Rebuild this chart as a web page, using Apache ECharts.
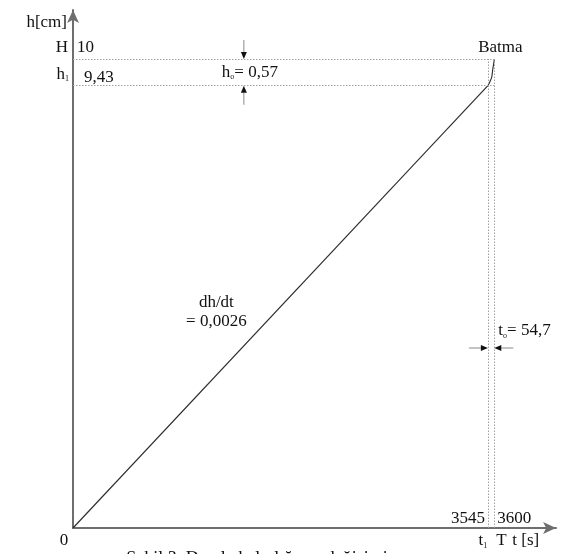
<!DOCTYPE html>
<html>
<head>
<meta charset="utf-8">
<script src="https://cdn.jsdelivr.net/npm/echarts@6/dist/echarts.min.js"></script>
<style>
  html, body { margin: 0; padding: 0; background: #fff; }
  #chart { width: 564px; height: 554px; }
</style>
</head>
<body>
<div id="chart"></div>
<script>
// Drop height h [cm] against time t [s]
const riseTime = [0, 3545];
const riseHeight = [0, 9.43];
// final sinking ("Batma") stage between t1 and T
const sinkTime = [3545, 3563, 3578, 3586, 3595, 3600];
const sinkHeight = [9.43, 9.52, 9.62, 9.77, 9.91, 10];
// reference levels: t1 / T and h1 / H
const refTimes = [3545, 3600];
const refHeights = [9.43, 10];
const timeTickLabels = ['3545', '3600'];
const heightTickLabels = ['9,43', '10'];
const gapHeightLabel = '0,57';
const gapTimeLabel = '54,7';
const slopeLabel = '0,0026';

const FONT = '"Liberation Serif", "DejaVu Serif", serif';
const X_MAX = 4127;
const Y_MAX = 11.045;

const chart = echarts.init(document.getElementById('chart'), null, { renderer: 'canvas' });

const pairs = (xs, ys) => xs.map((x, i) => [x, ys[i]]);

const dotted = { color: '#a0a0a0', width: 1, type: [1.5, 1.5] };
const refLines = [
  // horizontal guides at h1 and H, up to T
  [{ coord: [0, refHeights[1]] }, { coord: [refTimes[1], refHeights[1]] }],
  [{ coord: [0, refHeights[0]] }, { coord: [refTimes[1], refHeights[0]] }],
  // vertical guides at t1 and T
  [{ coord: [refTimes[0], 0] }, { coord: [refTimes[0], refHeights[1]] }],
  [{ coord: [refTimes[1], 0] }, { coord: [refTimes[1], refHeights[1]] }]
];

const axisLine = {
  show: true,
  lineStyle: { color: '#6e6e6e', width: 2 },
  symbol: ['none', 'arrow'],
  symbolSize: [9, 13]
};

chart.setOption({
  animation: false,
  backgroundColor: '#fff',
  grid: { left: 73, right: 8, top: 10, bottom: 26 },
  xAxis: {
    type: 'value', min: 0, max: X_MAX,
    axisLine: axisLine,
    axisTick: { show: false }, axisLabel: { show: false }, splitLine: { show: false }
  },
  yAxis: {
    type: 'value', min: 0, max: Y_MAX,
    axisLine: axisLine,
    axisTick: { show: false }, axisLabel: { show: false }, splitLine: { show: false }
  },
  series: [
    {
      type: 'line', data: pairs(riseTime, riseHeight), symbol: 'none',
      lineStyle: { color: '#2a2a2a', width: 1.1 },
      markLine: {
        silent: true, symbol: ['none', 'none'], label: { show: false },
        lineStyle: dotted, data: refLines
      },
      z: 3
    },
    {
      type: 'line', data: pairs(sinkTime, sinkHeight), symbol: 'none', smooth: 0.4,
      lineStyle: { color: '#2a2a2a', width: 1.1 }, z: 3
    }
  ]
});

function px(t, h) { return chart.convertToPixel({ gridIndex: 0 }, [t, h]); }

const baseStyle = { fontFamily: FONT, fontSize: 17, fill: '#111' };
const rich = {
  sub: { fontFamily: FONT, fontSize: 8, fill: '#111', verticalAlign: 'bottom', padding: [9, 0, 0, 0] },
  n: { fontFamily: FONT, fontSize: 17, fill: '#111' }
};

function text(x, y, str, align, extra) {
  return {
    type: 'text', x: x, y: y, silent: true, z: 10,
    style: Object.assign({ text: str, align: align || 'left', verticalAlign: 'middle' }, baseStyle, { rich: rich }, extra || {})
  };
}

function arrow(x1, y1, x2, y2) {
  // shaft from (x1,y1) to tip (x2,y2) with a small filled head
  const ang = Math.atan2(y2 - y1, x2 - x1);
  const L = 7, W = 3;
  const bx = x2 - L * Math.cos(ang), by = y2 - L * Math.sin(ang);
  const nx = -Math.sin(ang) * W, ny = Math.cos(ang) * W;
  return [
    { type: 'line', silent: true, z: 10, shape: { x1: x1, y1: y1, x2: bx, y2: by }, style: { stroke: '#8a8a8a', lineWidth: 1 } },
    { type: 'polygon', silent: true, z: 10, shape: { points: [[x2, y2], [bx + nx, by + ny], [bx - nx, by - ny]] }, style: { fill: '#111' } }
  ];
}

function drawAnnotations() {
  const o = px(0, 0);
  const top = px(0, Y_MAX);
  const pH = px(0, refHeights[1]);
  const ph1 = px(0, refHeights[0]);
  const pT = px(refTimes[1], 0);
  const pt1 = px(refTimes[0], 0);
  const arrowTime = 1460;
  const pGap = px(arrowTime, refHeights[1]);
  const pGapLow = px(arrowTime, refHeights[0]);
  const midGap = (pH[1] + ph1[1]) / 2;
  const pSlope = px(1225, 4.6);

  const els = [
    text(o[0] - 6, top[1] + 13, 'h[cm]', 'right'),
    text(o[0] - 5, pH[1] - 11, 'H', 'right'),
    text(o[0] + 4, pH[1] - 11, heightTickLabels[1], 'left'),
    text(o[0] - 4, ph1[1] - 11, '{n|h}{sub|1}', 'right'),
    text(o[0] + 11, ph1[1] - 8, heightTickLabels[0], 'left'),
    text(pGap[0] - 22, midGap, '{n|h}{sub|o}{n|= ' + gapHeightLabel + '}', 'left'),
    text(pT[0] + 6, pH[1] - 11, 'Batma', 'center'),
    text(pSlope[0], pSlope[1], 'dh/dt\n= ' + slopeLabel, 'center', { lineHeight: 19 }),
    text(pT[0] + 4, pt1[1] - 197, '{n|t}{sub|o}{n|= ' + gapTimeLabel + '}', 'left'),
    text(o[0] - 9, o[1] + 13, '0', 'center'),
    text(pt1[0] - 3, o[1] - 9, timeTickLabels[0], 'right'),
    text(pT[0] + 3, o[1] - 9, timeTickLabels[1], 'left'),
    text(pt1[0] - 5, o[1] + 13, '{n|t}{sub|1}', 'center'),
    text(pT[0] + 7, o[1] + 13, 'T', 'center'),
    text(pT[0] + 18, o[1] + 13, 't [s]', 'left'),
    text(257, 559, 'Şekil 3. Damla kalınlığının değişimi', 'center', { fontSize: 18 })
  ];

  const ay = pt1[1] - 180;
  els.push(...arrow(pGap[0], pGap[1] - 19, pGap[0], pGap[1]));
  els.push(...arrow(pGapLow[0], pGapLow[1] + 19, pGapLow[0], pGapLow[1]));
  els.push(...arrow(pt1[0] - 19, ay, pt1[0], ay));
  els.push(...arrow(pT[0] + 19, ay, pT[0], ay));

  chart.setOption({ graphic: { elements: els } });
}

drawAnnotations();
</script>
</body>
</html>
